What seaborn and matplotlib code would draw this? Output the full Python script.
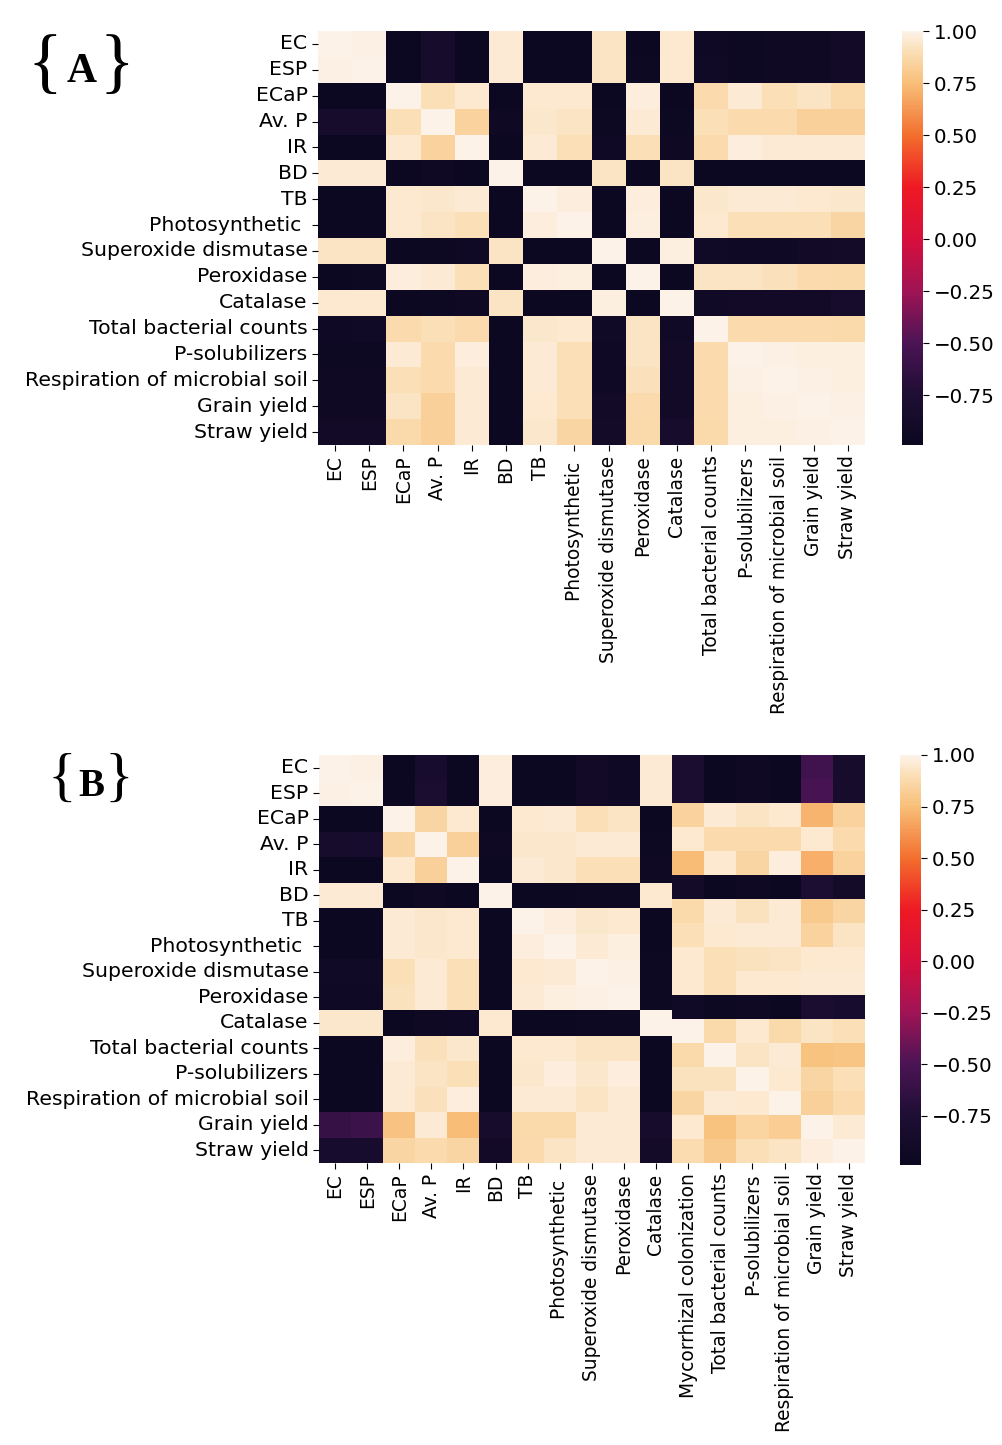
import numpy as np
import pandas as pd
import matplotlib
matplotlib.use("Agg")
import matplotlib.pyplot as plt
from matplotlib.colors import LinearSegmentedColormap
import seaborn as sns

# ---------------- data ----------------
labels_A = ["EC", "ESP", "ECaP", "Av. P", "IR", "BD", "TB", "Photosynthetic ",
            "Superoxide dismutase", "Peroxidase", "Catalase", "Total bacterial counts",
            "P-solubilizers", "Respiration of microbial soil", "Grain yield", "Straw yield"]

corr_A = [
    [1.00, 0.99, -0.97, -0.84, -0.97, 0.96, -0.97, -0.97, 0.93, -0.97, 0.95, -0.93, -0.96, -0.95, -0.95, -0.91],
    [0.99, 1.00, -0.97, -0.85, -0.97, 0.96, -0.97, -0.97, 0.93, -0.96, 0.95, -0.92, -0.96, -0.95, -0.95, -0.91],
    [-0.97, -0.97, 1.00, 0.90, 0.95, -0.97, 0.95, 0.95, -0.97, 0.97, -0.97, 0.88, 0.96, 0.90, 0.93, 0.87],
    [-0.84, -0.85, 0.90, 1.00, 0.84, -0.95, 0.94, 0.93, -0.96, 0.96, -0.96, 0.90, 0.88, 0.88, 0.83, 0.83],
    [-0.97, -0.97, 0.95, 0.84, 1.00, -0.98, 0.96, 0.90, -0.93, 0.90, -0.94, 0.88, 0.97, 0.96, 0.96, 0.96],
    [0.96, 0.96, -0.97, -0.95, -0.98, 1.00, -0.98, -0.98, 0.93, -0.98, 0.93, -0.98, -0.98, -0.98, -0.98, -0.98],
    [-0.97, -0.97, 0.95, 0.94, 0.96, -0.98, 1.00, 0.97, -0.97, 0.97, -0.97, 0.94, 0.96, 0.96, 0.95, 0.94],
    [-0.97, -0.97, 0.95, 0.93, 0.90, -0.98, 0.97, 1.00, -0.97, 0.98, -0.97, 0.95, 0.90, 0.90, 0.90, 0.86],
    [0.93, 0.93, -0.97, -0.96, -0.93, 0.93, -0.97, -0.97, 1.00, -0.97, 0.98, -0.92, -0.93, -0.93, -0.91, -0.88],
    [-0.97, -0.96, 0.97, 0.96, 0.90, -0.98, 0.97, 0.98, -0.97, 1.00, -0.97, 0.93, 0.93, 0.91, 0.88, 0.87],
    [0.95, 0.95, -0.97, -0.96, -0.94, 0.93, -0.97, -0.97, 0.98, -0.97, 1.00, -0.92, -0.91, -0.91, -0.89, -0.85],
    [-0.93, -0.92, 0.88, 0.90, 0.88, -0.98, 0.94, 0.95, -0.92, 0.93, -0.92, 1.00, 0.88, 0.88, 0.88, 0.87],
    [-0.96, -0.96, 0.96, 0.88, 0.97, -0.98, 0.96, 0.90, -0.93, 0.93, -0.91, 0.88, 1.00, 0.99, 0.98, 0.98],
    [-0.95, -0.95, 0.90, 0.88, 0.96, -0.98, 0.96, 0.90, -0.93, 0.91, -0.91, 0.88, 0.99, 1.00, 0.99, 0.98],
    [-0.95, -0.95, 0.93, 0.83, 0.96, -0.98, 0.95, 0.90, -0.91, 0.88, -0.89, 0.88, 0.98, 0.99, 1.00, 0.99],
    [-0.91, -0.91, 0.87, 0.83, 0.96, -0.98, 0.94, 0.86, -0.88, 0.87, -0.85, 0.87, 0.98, 0.98, 0.99, 1.00],
]

# Panel B: left block (16 rows x 11 columns)
rows_B = labels_A
cols_B_left = labels_A[:11]
corr_B_left = [
    [1.00, 0.99, -0.97, -0.82, -0.97, 0.97, -0.97, -0.97, -0.90, -0.93, 0.96],
    [0.99, 1.00, -0.97, -0.80, -0.97, 0.97, -0.97, -0.97, -0.90, -0.93, 0.96],
    [-0.97, -0.97, 1.00, 0.86, 0.95, -0.97, 0.95, 0.96, 0.90, 0.93, -0.97],
    [-0.85, -0.82, 0.86, 1.00, 0.83, -0.94, 0.94, 0.94, 0.96, 0.96, -0.96],
    [-0.97, -0.97, 0.95, 0.83, 1.00, -0.97, 0.96, 0.94, 0.90, 0.90, -0.94],
    [0.96, 0.96, -0.97, -0.95, -0.97, 1.00, -0.97, -0.97, -0.96, -0.96, 0.95],
    [-0.97, -0.97, 0.96, 0.94, 0.95, -0.97, 1.00, 0.97, 0.94, 0.95, -0.97],
    [-0.97, -0.97, 0.96, 0.94, 0.95, -0.97, 0.97, 1.00, 0.96, 0.98, -0.97],
    [-0.92, -0.92, 0.90, 0.96, 0.90, -0.97, 0.95, 0.96, 1.00, 0.99, -0.96],
    [-0.93, -0.93, 0.92, 0.96, 0.90, -0.97, 0.96, 0.98, 0.99, 1.00, -0.96],
    [0.94, 0.94, -0.97, -0.95, -0.93, 0.95, -0.97, -0.97, -0.96, -0.96, 1.00],
    [-0.97, -0.97, 0.97, 0.91, 0.94, -0.97, 0.95, 0.95, 0.93, 0.93, -0.97],
    [-0.97, -0.97, 0.96, 0.93, 0.90, -0.97, 0.94, 0.97, 0.94, 0.97, -0.97],
    [-0.97, -0.97, 0.96, 0.91, 0.97, -0.97, 0.96, 0.96, 0.93, 0.96, -0.97],
    [-0.62, -0.58, 0.77, 0.96, 0.75, -0.85, 0.87, 0.87, 0.96, 0.96, -0.85],
    [-0.82, -0.82, 0.86, 0.88, 0.86, -0.90, 0.88, 0.93, 0.96, 0.96, -0.88],
]

# Panel B: right block (17 rows x 6 columns)
rows_B_right = labels_A[:11] + ["Mycorrhizal colonization"] + labels_A[11:]
cols_B_right = ["Mycorrhizal colonization", "Total bacterial counts", "P-solubilizers",
                "Respiration of microbial soil", "Grain yield", "Straw yield"]
corr_B_right = [
    [-0.80, -0.97, -0.95, -0.97, -0.55, -0.85],
    [-0.80, -0.97, -0.95, -0.97, -0.52, -0.85],
    [0.84, 0.96, 0.93, 0.95, 0.72, 0.84],
    [0.95, 0.88, 0.88, 0.88, 0.95, 0.88],
    [0.74, 0.95, 0.86, 0.97, 0.70, 0.84],
    [-0.88, -0.97, -0.95, -0.97, -0.78, -0.88],
    [0.87, 0.96, 0.92, 0.96, 0.80, 0.86],
    [0.90, 0.95, 0.96, 0.96, 0.84, 0.93],
    [0.95, 0.90, 0.92, 0.93, 0.95, 0.95],
    [0.95, 0.90, 0.95, 0.95, 0.96, 0.96],
    [-0.92, -0.96, -0.95, -0.97, -0.80, -0.82],
    [1.00, 0.87, 0.95, 0.87, 0.93, 0.90],
    [0.87, 1.00, 0.93, 0.96, 0.76, 0.78],
    [0.92, 0.92, 1.00, 0.95, 0.86, 0.90],
    [0.86, 0.96, 0.95, 1.00, 0.83, 0.88],
    [0.95, 0.76, 0.85, 0.82, 1.00, 0.96],
    [0.89, 0.80, 0.90, 0.93, 0.97, 1.00],
]

# ---------------- style ----------------
VMIN, VMAX = -0.99, 1.0
_anchors = [
    (0.000, (12, 8, 32)),
    (0.121, (30, 14, 52)),
    (0.246, (75, 20, 85)),
    (0.372, (160, 20, 85)),
    (0.497, (215, 15, 60)),
    (0.623, (238, 25, 35)),
    (0.749, (243, 110, 45)),
    (0.874, (248, 190, 120)),
    (0.950, (251, 222, 180)),
    (1.000, (252, 242, 232)),
]
CMAP = LinearSegmentedColormap.from_list(
    "rocket_vivid", [(p, tuple(c / 255 for c in rgb)) for p, rgb in _anchors])

W, H = 1003, 1445
YFS, XFS, CFS = 14.7, 13.4, 14.3

fig = plt.figure(figsize=(W / 100, H / 100), dpi=100)
fig.patch.set_facecolor("white")


def box(x0, y0, x1, y1):
    return [x0 / W, 1 - y1 / H, (x1 - x0) / W, (y1 - y0) / H]


def style_axes(ax, show_y=True):
    ax.tick_params(axis="x", labelsize=XFS, labelrotation=90, length=4, width=0.8)
    ax.tick_params(axis="y", labelsize=YFS, labelrotation=0, length=4, width=0.8)
    if not show_y:
        ax.set_yticks([])
    ax.set_xlabel("")
    ax.set_ylabel("")


# ---- Panel A ----
df_A = pd.DataFrame(corr_A, index=labels_A, columns=labels_A)
axA = fig.add_axes(box(318, 31, 865, 445))
caxA = fig.add_axes(box(902, 31, 923, 445))
sns.heatmap(df_A, ax=axA, cmap=CMAP, vmin=VMIN, vmax=VMAX, cbar_ax=caxA,
            xticklabels=True, yticklabels=True)
style_axes(axA)
caxA.tick_params(labelsize=CFS, length=4)

# ---- Panel B ----
df_BL = pd.DataFrame(corr_B_left, index=rows_B, columns=cols_B_left)
df_BR = pd.DataFrame(corr_B_right, index=rows_B_right, columns=cols_B_right)
axBL = fig.add_axes(box(319, 755, 672, 1163))
axBR = fig.add_axes(box(672, 755, 865, 1163))
caxB = fig.add_axes(box(900, 755, 921, 1165))
sns.heatmap(df_BL, ax=axBL, cmap=CMAP, vmin=VMIN, vmax=VMAX, cbar_ax=caxB,
            xticklabels=True, yticklabels=True)
sns.heatmap(df_BR, ax=axBR, cmap=CMAP, vmin=VMIN, vmax=VMAX, cbar=False,
            xticklabels=True, yticklabels=False)
style_axes(axBL)
style_axes(axBR, show_y=False)
caxB.tick_params(labelsize=CFS, length=4)

# ---- panel tags ----
serif = ["Liberation Serif", "DejaVu Serif"]
fig.text(45 / W, 1 - 66 / H, "{", family=serif, fontsize=52, ha="center", va="center")
fig.text(82 / W, 1 - 72 / H, "A", family=serif, fontsize=30, fontweight="bold", ha="center", va="center")
fig.text(117 / W, 1 - 66 / H, "}", family=serif, fontsize=52, ha="center", va="center")

fig.text(62 / W, 1 - 781 / H, "{", family=serif, fontsize=43, ha="center", va="center")
fig.text(91 / W, 1 - 787 / H, "B", family=serif, fontsize=28, fontweight="bold", ha="center", va="center")
fig.text(119 / W, 1 - 781 / H, "}", family=serif, fontsize=43, ha="center", va="center")

fig.savefig("out.png", dpi=100, facecolor="white")
